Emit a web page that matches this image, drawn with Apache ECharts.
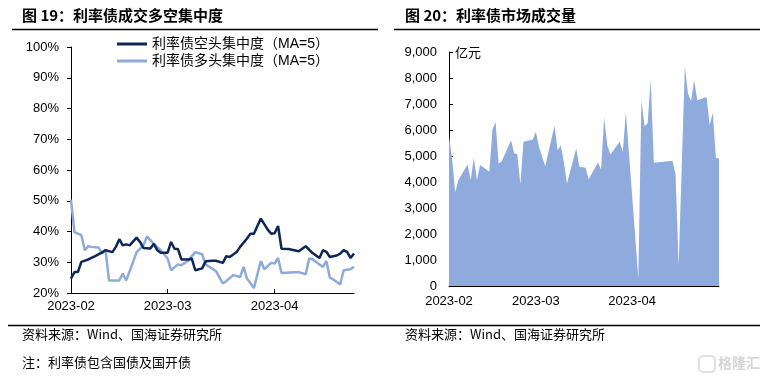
<!DOCTYPE html>
<html>
<head>
<meta charset="utf-8">
<script src="https://cdn.jsdelivr.net/npm/echarts@6/dist/echarts.min.js"></script>
<style>
  html, body { margin: 0; padding: 0; background: #fff; }
  #container { width: 767px; height: 378px; }
</style>
</head>
<body>
<div id="container"></div>
<script>
// 利率债空头集中度（MA=5），%
const shortConc = [
  ['2023-02-01', 24.7], ['2023-02-02', 26.8], ['2023-02-03', 26.8], ['2023-02-04', 30.1],
  ['2023-02-06', 30.9], ['2023-02-08', 32.0], ['2023-02-10', 33.2], ['2023-02-11', 33.9],
  ['2023-02-13', 33.3], ['2023-02-14', 35.0], ['2023-02-15', 37.5], ['2023-02-16', 35.5],
  ['2023-02-17', 35.8], ['2023-02-18', 35.5], ['2023-02-20', 38.0], ['2023-02-21', 36.6],
  ['2023-02-22', 34.6], ['2023-02-24', 34.5], ['2023-02-25', 36.0], ['2023-02-26', 33.9],
  ['2023-02-27', 33.1], ['2023-03-01', 33.1], ['2023-03-02', 36.6], ['2023-03-03', 34.4],
  ['2023-03-04', 34.3], ['2023-03-05', 30.9], ['2023-03-07', 30.9], ['2023-03-08', 31.2],
  ['2023-03-09', 27.4], ['2023-03-11', 28.0], ['2023-03-12', 30.3], ['2023-03-14', 30.5],
  ['2023-03-15', 30.5], ['2023-03-17', 29.8], ['2023-03-18', 32.0], ['2023-03-19', 31.7],
  ['2023-03-21', 33.3], ['2023-03-22', 35.0], ['2023-03-24', 37.7], ['2023-03-25', 39.3],
  ['2023-03-26', 39.3], ['2023-03-28', 44.2], ['2023-03-30', 40.6], ['2023-03-31', 39.3],
  ['2023-04-01', 39.4], ['2023-04-02', 41.8], ['2023-04-03', 34.4], ['2023-04-05', 34.3],
  ['2023-04-08', 33.6], ['2023-04-10', 35.2], ['2023-04-12', 33.0], ['2023-04-14', 31.4],
  ['2023-04-15', 33.9], ['2023-04-16', 33.4], ['2023-04-17', 31.7], ['2023-04-19', 32.2],
  ['2023-04-20', 32.8], ['2023-04-21', 33.9], ['2023-04-22', 33.4], ['2023-04-23', 31.4],
  ['2023-04-24', 32.8]
];

// 利率债多头集中度（MA=5），%
const longConc = [
  ['2023-02-01', 50.4], ['2023-02-02', 39.8], ['2023-02-04', 38.8], ['2023-02-05', 33.9],
  ['2023-02-06', 35.2], ['2023-02-07', 35.0], ['2023-02-09', 34.8], ['2023-02-10', 32.8],
  ['2023-02-11', 34.1], ['2023-02-12', 24.1], ['2023-02-15', 24.1], ['2023-02-16', 26.3],
  ['2023-02-17', 24.1], ['2023-02-19', 30.1], ['2023-02-20', 33.3], ['2023-02-22', 35.5],
  ['2023-02-23', 38.4], ['2023-02-25', 36.0], ['2023-02-27', 33.9], ['2023-03-01', 31.2],
  ['2023-03-02', 27.4], ['2023-03-04', 29.3], ['2023-03-05', 29.0], ['2023-03-07', 30.6],
  ['2023-03-09', 33.3], ['2023-03-11', 32.6], ['2023-03-12', 29.3], ['2023-03-14', 27.9],
  ['2023-03-15', 27.1], ['2023-03-17', 23.1], ['2023-03-18', 23.9], ['2023-03-20', 25.8],
  ['2023-03-22', 25.2], ['2023-03-23', 28.5], ['2023-03-24', 24.7], ['2023-03-26', 21.6],
  ['2023-03-28', 30.4], ['2023-03-29', 27.7], ['2023-03-31', 29.8], ['2023-04-01', 29.6],
  ['2023-04-02', 31.4], ['2023-04-03', 26.5], ['2023-04-08', 26.8], ['2023-04-10', 26.1],
  ['2023-04-11', 31.2], ['2023-04-12', 31.0], ['2023-04-14', 29.3], ['2023-04-15', 28.5],
  ['2023-04-16', 30.4], ['2023-04-17', 25.0], ['2023-04-18', 24.4], ['2023-04-20', 22.8],
  ['2023-04-21', 27.4], ['2023-04-23', 27.7], ['2023-04-24', 28.5]
];

// 利率债市场成交量，亿元
const volume = [
  ['2023-02-01', 5760], ['2023-02-02', 4900], ['2023-02-03', 3600], ['2023-02-04', 4070],
  ['2023-02-07', 4675], ['2023-02-08', 4070], ['2023-02-09', 4930], ['2023-02-10', 4070],
  ['2023-02-11', 4650], ['2023-02-14', 4390], ['2023-02-15', 6020], ['2023-02-16', 6310],
  ['2023-02-17', 4710], ['2023-02-18', 4800], ['2023-02-21', 5610], ['2023-02-22', 5100],
  ['2023-02-23', 5080], ['2023-02-24', 3900], ['2023-02-25', 5545], ['2023-02-28', 5635],
  ['2023-03-01', 5930], ['2023-03-02', 5350], ['2023-03-04', 4610], ['2023-03-07', 6160],
  ['2023-03-08', 5225], ['2023-03-09', 5415], ['2023-03-10', 4775], ['2023-03-11', 3945],
  ['2023-03-14', 5290], ['2023-03-15', 4585], ['2023-03-17', 4550], ['2023-03-18', 4110],
  ['2023-03-21', 4750], ['2023-03-22', 4480], ['2023-03-23', 6470], ['2023-03-24', 5415],
  ['2023-03-25', 5060], ['2023-03-28', 5545], ['2023-03-29', 5160], ['2023-03-30', 6670],
  ['2023-04-03', 300], ['2023-04-04', 7145], ['2023-04-05', 6150], ['2023-04-06', 6250],
  ['2023-04-07', 7940], ['2023-04-08', 4740], ['2023-04-14', 4815], ['2023-04-15', 4300],
  ['2023-04-16', 770], ['2023-04-18', 8450], ['2023-04-19', 7400], ['2023-04-20', 7120],
  ['2023-04-21', 7915], ['2023-04-22', 7145], ['2023-04-25', 7270], ['2023-04-26', 6185],
  ['2023-04-27', 6660], ['2023-04-28', 4930], ['2023-04-29', 4905]
];

const monthTicks = ['2023-02-01', '2023-03-01', '2023-04-01'];
const seriesNames = ['利率债空头集中度（MA=5）', '利率债多头集中度（MA=5）'];

const toTime = s => {
  const [y, m, d] = s.split('-').map(Number);
  return new Date(y, m - 1, d).getTime();
};
const toPoints = arr => arr.map(d => [toTime(d[0]), d[1]]);
const fmtMonth = v => {
  const d = new Date(v);
  return d.getFullYear() + '-' + String(d.getMonth() + 1).padStart(2, '0');
};

const latin = 'Liberation Sans, Arial, Noto Sans CJK SC';
const cjk = 'Noto Sans CJK SC';
const darkBlue = '#0e2557';
const lightBlue = '#8eaadb';

const chart = echarts.init(document.getElementById('container'));

// dates are kept as timestamps on a value axis so the month ticks can be placed exactly
const xAxisBase = {
  type: 'value',
  axisLine: { lineStyle: { color: '#000', width: 1 } },
  axisTick: { inside: true, length: 4, lineStyle: { color: '#000' }, customValues: monthTicks.map(toTime) },
  axisLabel: {
    customValues: monthTicks.map(toTime),
    formatter: fmtMonth,
    color: '#000',
    fontFamily: latin,
    fontSize: 13
  },
  splitLine: { show: false }
};

const option = {
  animation: false,
  backgroundColor: '#fff',
  legend: {
    data: seriesNames,
    orient: 'vertical',
    left: 112,
    top: 32,
    itemWidth: 30,
    itemHeight: 3,
    itemGap: 3,
    icon: 'rect',
    textStyle: { fontFamily: latin, fontSize: 14, color: '#000' }
  },
  grid: [
    { left: 71, top: 47, width: 283, height: 246 },
    { left: 449, top: 52, width: 270, height: 234 }
  ],
  xAxis: [
    { ...xAxisBase, gridIndex: 0, min: toTime('2023-02-01'), max: toTime('2023-04-24'),
      axisLabel: { ...xAxisBase.axisLabel, margin: 7 } },
    { ...xAxisBase, gridIndex: 1, min: toTime('2023-02-01'), max: toTime('2023-04-29'),
      axisLabel: { ...xAxisBase.axisLabel, margin: 9 } }
  ],
  yAxis: [
    {
      type: 'value', gridIndex: 0, min: 20, max: 100, interval: 10,
      axisLine: { show: true, lineStyle: { color: '#000' } },
      axisTick: { show: true, length: 4, lineStyle: { color: '#000' } },
      axisLabel: { formatter: '{value}%', color: '#000', fontFamily: latin, fontSize: 13, margin: 12 },
      splitLine: { show: false }
    },
    {
      type: 'value', gridIndex: 1, min: 0, max: 9000, interval: 1000,
      axisLine: { show: true, lineStyle: { color: '#000' } },
      axisTick: { show: true, inside: true, length: 4, lineStyle: { color: '#000' } },
      axisLabel: {
        formatter: v => v.toLocaleString('en-US'),
        color: '#000', fontFamily: latin, fontSize: 13, margin: 12
      },
      splitLine: { show: false }
    }
  ],
  series: [
    {
      name: seriesNames[0], type: 'line', xAxisIndex: 0, yAxisIndex: 0,
      data: toPoints(shortConc), showSymbol: false, symbol: 'none',
      color: darkBlue, lineStyle: { color: darkBlue, width: 2.5 }, z: 3
    },
    {
      name: seriesNames[1], type: 'line', xAxisIndex: 0, yAxisIndex: 0,
      data: toPoints(longConc), showSymbol: false, symbol: 'none',
      color: lightBlue, lineStyle: { color: lightBlue, width: 2.5 }, z: 2
    },
    {
      name: '利率债市场成交量', type: 'line', xAxisIndex: 1, yAxisIndex: 1,
      data: toPoints(volume), showSymbol: false, symbol: 'none',
      color: '#8faadc', lineStyle: { width: 0 },
      areaStyle: { color: '#8faadc', opacity: 1 }
    }
  ],
  graphic: [
    { type: 'text', left: 22, top: 8, style: { text: '图 19：利率债成交多空集中度', font: 'bold 15px ' + cjk, fill: '#000' } },
    { type: 'text', left: 405, top: 8, style: { text: '图 20：利率债市场成交量', font: 'bold 15px ' + cjk, fill: '#000' } },
    { type: 'line', shape: { x1: 12, y1: 29.5, x2: 378, y2: 29.5 }, style: { stroke: '#000', lineWidth: 1.5 } },
    { type: 'line', shape: { x1: 394, y1: 29.5, x2: 760, y2: 29.5 }, style: { stroke: '#000', lineWidth: 1.5 } },
    { type: 'text', left: 455, top: 46, style: { text: '亿元', font: '13px ' + cjk, fill: '#000' } },
    { type: 'line', shape: { x1: 8, y1: 325.5, x2: 760, y2: 325.5 }, style: { stroke: '#000', lineWidth: 1.5 } },
    { type: 'text', left: 22, top: 328, style: { text: '资料来源：Wind、国海证券研究所', font: '13px ' + cjk, fill: '#000' } },
    { type: 'text', left: 405, top: 328, style: { text: '资料来源：Wind、国海证券研究所', font: '13px ' + cjk, fill: '#000' } },
    { type: 'text', left: 22, top: 356, style: { text: '注：利率债包含国债及国开债', font: '13px ' + cjk, fill: '#000' } },
    { type: 'text', left: 718, top: 356, style: { text: '格隆汇', font: 'bold 14px ' + cjk, fill: '#d6d6d6' } },
    { type: 'rect', shape: { x: 699, y: 356, width: 16, height: 16, r: 4 }, style: { fill: 'none', stroke: '#d6d6d6', lineWidth: 1.5 } }
  ]
};

chart.setOption(option);
</script>
</body>
</html>
